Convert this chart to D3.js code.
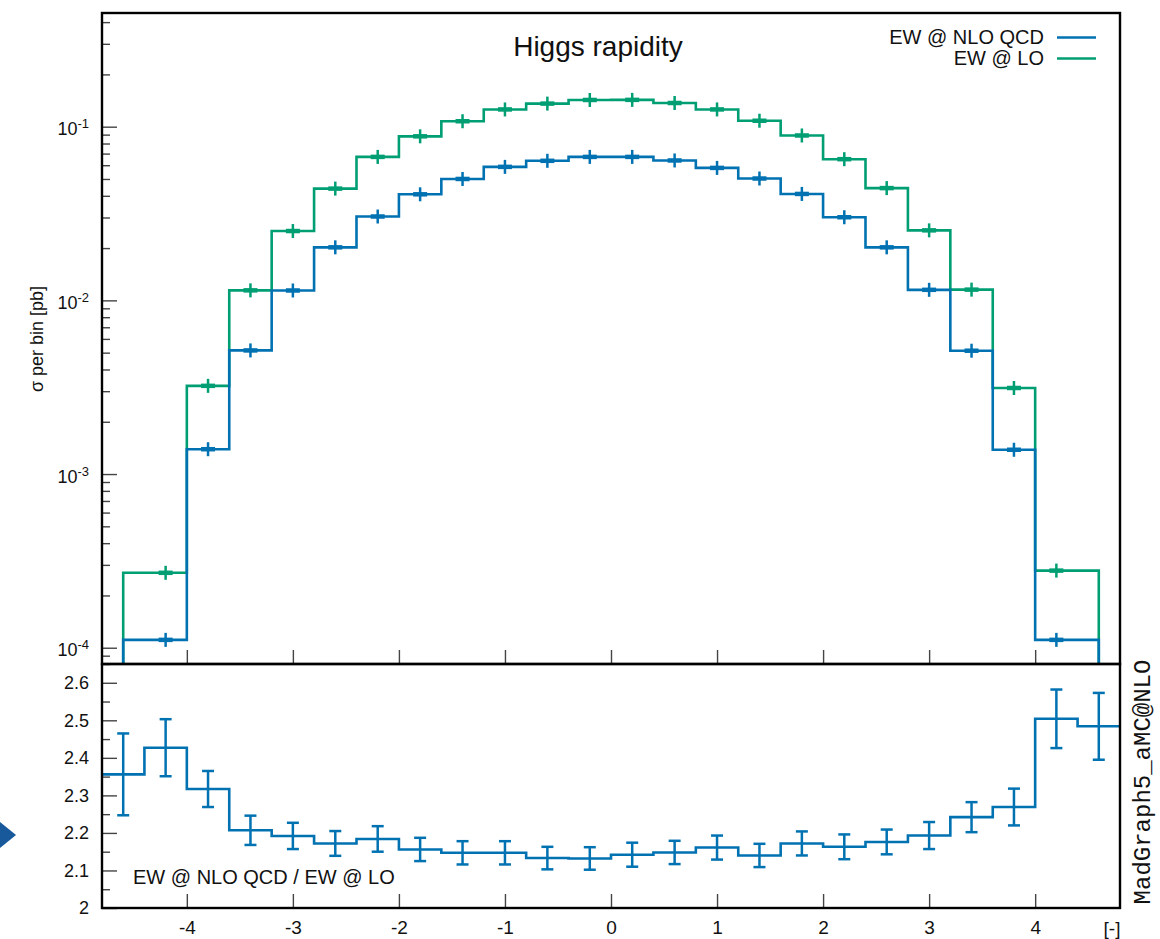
<!DOCTYPE html>
<html>
<head>
<meta charset="utf-8">
<script src="https://cdn.jsdelivr.net/npm/d3@7/dist/d3.min.js"></script>
<style>
  body { margin: 0; background: #fff; }
  text { font-family: "Liberation Sans", Arial, sans-serif; fill: #111; }
</style>
</head>
<body>
<svg id="chart" width="1160" height="939"></svg>
<script>
// bin centres of the rapidity histogram (bin width 0.4)
var binCenters = [-4.6, -4.2, -3.8, -3.4, -3.0, -2.6, -2.2, -1.8, -1.4, -1.0, -0.6, -0.2,
                   0.2,  0.6,  1.0,  1.4,  1.8,  2.2,  2.6,  3.0,  3.4,  3.8,  4.2,  4.6];

// sigma per bin [pb], null = empty / off scale
var ewNloQcd = [null, 1.11e-4, 1.39e-3, 5.15e-3, 0.01140, 0.0202, 0.0304, 0.0408, 0.0500, 0.0587, 0.0636, 0.0670,
                0.0670, 0.0639, 0.0579, 0.0503, 0.0410, 0.0301, 0.0202, 0.01150, 5.13e-3, 1.38e-3, 1.11e-4, null];
var ewLo     = [null, 2.70e-4, 3.22e-3, 0.01142, 0.02507, 0.0440, 0.0670, 0.0880, 0.1075, 0.1257, 0.1358, 0.1425,
                0.1427, 0.1369, 0.1257, 0.1082, 0.0890, 0.0650, 0.0443, 0.0253, 0.01153, 3.13e-3, 2.78e-4, null];

// ratio panel
var ratio    = [2.356, 2.427, 2.317, 2.207, 2.192, 2.172, 2.184, 2.156, 2.147, 2.147, 2.133, 2.132,
                2.142, 2.148, 2.161, 2.140, 2.172, 2.163, 2.176, 2.193, 2.242, 2.269, 2.504, 2.484];
var ratioErr = [0.109, 0.076, 0.048, 0.039, 0.035, 0.033, 0.034, 0.031, 0.031, 0.031, 0.030, 0.030,
                0.032, 0.031, 0.032, 0.031, 0.032, 0.033, 0.033, 0.036, 0.040, 0.049, 0.078, 0.089];

var xTicks      = [-4, -3, -2, -1, 0, 1, 2, 3, 4];
var yTopMajor   = [1e-4, 1e-3, 1e-2, 1e-1];
var yTopExp     = ['-4', '-3', '-2', '-1'];
var yRatioMajor = [2, 2.1, 2.2, 2.3, 2.4, 2.5, 2.6];
var yRatioMinor = [2.05, 2.15, 2.25, 2.35, 2.45, 2.55, 2.65];

var blue  = '#0072b2';
var green = '#009e73';

// frame geometry
var fLeft = 102, fRight = 1120, fTop = 13, fMid = 664, fBottom = 908;

var svg = d3.select('#chart');

var x = d3.scaleLinear().domain([-4.8, 4.8]).range([fLeft, fRight]);
var yTop = d3.scaleLog().domain([8.06e-5, 0.4514]).range([fMid, fTop]);
var yBot = d3.scaleLinear().domain([2, 2.65]).range([fBottom, fMid]);

// clip paths for the two panels
var defs = svg.append('defs');
defs.append('clipPath').attr('id', 'clipTop').append('rect')
  .attr('x', fLeft).attr('y', fTop).attr('width', fRight - fLeft).attr('height', fMid - fTop);
defs.append('clipPath').attr('id', 'clipBot').append('rect')
  .attr('x', fLeft).attr('y', fMid).attr('width', fRight - fLeft).attr('height', fBottom - fMid);

// ---- axes / ticks
function styleAxis(g) {
  g.select('.domain').remove();
  g.selectAll('.tick line').attr('stroke', '#444').attr('stroke-width', 1.4);
  g.selectAll('.tick text').style('font-size', '18px').attr('fill', '#111')
    .style('font-family', '"Liberation Sans", Arial, sans-serif');
}

// upper panel: log axis major + minor
var topMinor = yTop.ticks().filter(function(d) {
  return yTopMajor.every(function(m) { return Math.abs(d / m - 1) > 1e-6; });
});
svg.append('g').attr('transform', 'translate(' + fLeft + ',0)')
  .call(d3.axisLeft(yTop).tickValues(topMinor).tickSize(-8).tickFormat(''))
  .call(styleAxis);
var gTopY = svg.append('g').attr('transform', 'translate(' + fLeft + ',0)')
  .call(d3.axisLeft(yTop).tickValues(yTopMajor).tickSize(-15).tickPadding(13).tickFormat(''))
  .call(styleAxis);
gTopY.selectAll('.tick text').each(function(d, i) {
  var t = d3.select(this).attr('dy', '0.45em');
  t.append('tspan').text('10');
  t.append('tspan').attr('dy', '-0.55em').style('font-size', '13px').text(yTopExp[i]);
});

svg.append('g').attr('transform', 'translate(0,' + fMid + ')')
  .call(d3.axisBottom(x).tickValues(xTicks).tickSize(-14).tickFormat(''))
  .call(styleAxis);

// lower panel
svg.append('g').attr('transform', 'translate(' + fLeft + ',0)')
  .call(d3.axisLeft(yBot).tickValues(yRatioMinor).tickSize(-8).tickFormat(''))
  .call(styleAxis);
svg.append('g').attr('transform', 'translate(' + fLeft + ',0)')
  .call(d3.axisLeft(yBot).tickValues(yRatioMajor).tickSize(-15).tickPadding(13)
    .tickFormat(function(d) { return d === 2 ? '2' : d.toFixed(1); }))
  .call(styleAxis);
var gx = svg.append('g').attr('transform', 'translate(0,' + fBottom + ')')
  .call(d3.axisBottom(x).tickValues(xTicks).tickSize(-14).tickPadding(13)
    .tickFormat(function(d) { return String(d); }))
  .call(styleAxis);
gx.selectAll('.tick text').style('font-size', '19px');

svg.append('text').attr('x', 1112).attr('y', 935)
  .attr('text-anchor', 'middle').style('font-size', '19px').text('[-]');

// ---- histogram steps
function stepPath(centers, vals, yScale, dropEnds) {
  var pts = [];
  centers.forEach(function(c, i) { if (vals[i] != null) pts.push([c, vals[i]]); });
  var edges = [pts[0][0] - (pts[1][0] - pts[0][0])];
  for (var i = 0; i < pts.length - 1; i++) edges.push((pts[i][0] + pts[i + 1][0]) / 2);
  var n = pts.length;
  edges.push(pts[n - 1][0] + (pts[n - 1][0] - pts[n - 2][0]));
  var yBase = yScale.range()[0] + 10;
  var d = dropEnds ? 'M' + x(edges[0]) + ',' + yBase + 'V' + yScale(pts[0][1])
                   : 'M' + x(edges[0]) + ',' + yScale(pts[0][1]);
  for (var j = 0; j < n; j++) {
    if (j > 0) d += 'V' + yScale(pts[j][1]);
    d += 'H' + x(edges[j + 1]);
  }
  if (dropEnds) d += 'V' + yBase;
  return { d: d, pts: pts };
}

var topLayer = svg.append('g').attr('clip-path', 'url(#clipTop)');
[[ewLo, green], [ewNloQcd, blue]].forEach(function(s) {
  var sp = stepPath(binCenters, s[0], yTop, true);
  topLayer.append('path').attr('d', sp.d)
    .attr('fill', 'none').attr('stroke', s[1]).attr('stroke-width', 2.6);
  var marks = topLayer.selectAll(null).data(sp.pts).enter().append('g')
    .attr('transform', function(p) { return 'translate(' + x(p[0]) + ',' + yTop(p[1]) + ')'; });
  marks.append('line').attr('x1', -7).attr('x2', 7)
    .attr('stroke', s[1]).attr('stroke-width', 4.5);
  marks.append('line').attr('y1', -7).attr('y2', 7)
    .attr('stroke', s[1]).attr('stroke-width', 2.5);
});

// ratio steps + error bars
var botLayer = svg.append('g').attr('clip-path', 'url(#clipBot)');
var rp = stepPath(binCenters, ratio, yBot, false);
botLayer.append('path').attr('d', rp.d)
  .attr('fill', 'none').attr('stroke', blue).attr('stroke-width', 2.6);
var eb = botLayer.selectAll(null).data(binCenters).enter().append('g')
  .attr('stroke', blue).attr('stroke-width', 2.5);
eb.append('line')
  .attr('x1', function(c) { return x(c); }).attr('x2', function(c) { return x(c); })
  .attr('y1', function(c, i) { return yBot(ratio[i] + ratioErr[i]); })
  .attr('y2', function(c, i) { return yBot(ratio[i] - ratioErr[i]); });
eb.append('line')
  .attr('x1', function(c) { return x(c) - 6; }).attr('x2', function(c) { return x(c) + 6; })
  .attr('y1', function(c, i) { return yBot(ratio[i] + ratioErr[i]); })
  .attr('y2', function(c, i) { return yBot(ratio[i] + ratioErr[i]); });
eb.append('line')
  .attr('x1', function(c) { return x(c) - 6; }).attr('x2', function(c) { return x(c) + 6; })
  .attr('y1', function(c, i) { return yBot(ratio[i] - ratioErr[i]); })
  .attr('y2', function(c, i) { return yBot(ratio[i] - ratioErr[i]); });

// ---- frames
var frame = svg.append('g').attr('fill', 'none').attr('stroke', '#000').attr('stroke-width', 2.4);
frame.append('rect').attr('x', fLeft).attr('y', fTop).attr('width', fRight - fLeft).attr('height', fMid - fTop);
frame.append('rect').attr('x', fLeft).attr('y', fMid).attr('width', fRight - fLeft).attr('height', fBottom - fMid);

// ---- texts
svg.append('text').attr('x', 598).attr('y', 56).attr('text-anchor', 'middle')
  .style('font-size', '28px').text('Higgs rapidity');

var legend = [['EW @ NLO QCD', blue], ['EW @ LO', green]];
legend.forEach(function(l, i) {
  svg.append('text').attr('x', 1044).attr('y', 44 + i * 21).attr('text-anchor', 'end')
    .style('font-size', '20px').text(l[0]);
  svg.append('line').attr('x1', 1057).attr('x2', 1096)
    .attr('y1', 37.5 + i * 21).attr('y2', 37.5 + i * 21)
    .attr('stroke', l[1]).attr('stroke-width', 2.6);
});

svg.append('text').attr('transform', 'translate(43,339) rotate(-90)')
  .attr('text-anchor', 'middle').style('font-size', '18px').text('σ per bin [pb]');

svg.append('text').attr('x', 133).attr('y', 884)
  .style('font-size', '20px').text('EW @ NLO QCD / EW @ LO');

svg.append('text').attr('transform', 'translate(1150,782) rotate(-90)')
  .attr('text-anchor', 'middle')
  .style('font-family', '"Liberation Mono", "Courier New", monospace')
  .style('font-size', '24px').text('MadGraph5_aMC@NLO');

// pointer triangle at left edge
svg.append('path').attr('d', 'M0,822L16,835L0,848Z').attr('fill', '#17599b');
</script>
</body>
</html>
